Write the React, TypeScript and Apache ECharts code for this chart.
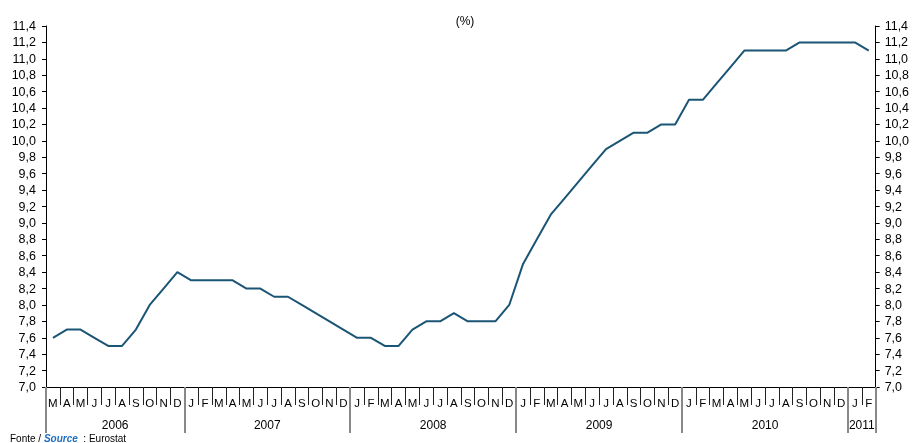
import React, { useEffect, useRef } from "react";
import * as echarts from "echarts";

const months = [
  "M","A","M","J","J","A","S","O","N","D",
  "J","F","M","A","M","J","J","A","S","O","N","D",
  "J","F","M","A","M","J","J","A","S","O","N","D",
  "J","F","M","A","M","J","J","A","S","O","N","D",
  "J","F","M","A","M","J","J","A","S","O","N","D",
  "J","F",
];

const values = [
  7.6, 7.7, 7.7, 7.6, 7.5, 7.5, 7.7, 8.0, 8.2, 8.4,
  8.3, 8.3, 8.3, 8.3, 8.2, 8.2, 8.1, 8.1, 8.0, 7.9, 7.8, 7.7,
  7.6, 7.6, 7.5, 7.5, 7.7, 7.8, 7.8, 7.9, 7.8, 7.8, 7.8, 8.0,
  8.5, 8.8, 9.1, 9.3, 9.5, 9.7, 9.9, 10.0, 10.1, 10.1, 10.2, 10.2,
  10.5, 10.5, 10.7, 10.9, 11.1, 11.1, 11.1, 11.1, 11.2, 11.2, 11.2, 11.2,
  11.2, 11.1,
];

const years = ["2006", "2007", "2008", "2009", "2010", "2011"];
const yearBoundaries = [0, 10, 22, 34, 46, 58, 60];
const yearCenters = [5, 16, 28, 40, 52, 59];

const FONT = "Liberation Sans, Arial, sans-serif";

export default function App() {
  const ref = useRef<HTMLDivElement>(null);

  useEffect(() => {
    if (!ref.current) return;
    const chart = echarts.init(ref.current, undefined, { renderer: "svg" });
    const fmt = (v: number) => v.toFixed(1).replace(".", ",");
    const yAxisBase = {
      type: "value" as const,
      min: 7,
      max: 11.4,
      interval: 0.2,
      splitLine: { show: false },
      axisLine: { show: true, lineStyle: { color: "#000", width: 1 } },
      axisTick: { show: true, length: 4, lineStyle: { color: "#000" } },
    };
    chart.setOption({
      animation: false,
      textStyle: { fontFamily: FONT },
      grid: { left: 46, right: 36, top: 26, bottom: 56, containLabel: false },
      title: {
        text: "(%)",
        left: 460,
        top: 10,
        textAlign: "center",
        textStyle: { fontFamily: FONT, fontSize: 12, fontWeight: "normal", color: "#000" },
      },
      graphic: [
        {
          type: "text",
          left: 10,
          top: 433,
          style: {
            rich: {
              a: { fontFamily: FONT, fontSize: 10, fill: "#000" },
              b: { fontFamily: FONT, fontSize: 10, fill: "#1f6fbf", fontWeight: "bold", fontStyle: "italic" },
            },
            text: "{a|Fonte / }{b|Source}{a|  : Eurostat}",
          },
        },
      ],
      xAxis: [
        {
          type: "category",
          data: months,
          boundaryGap: true,
          axisLine: { show: true, lineStyle: { color: "#000", width: 1 } },
          axisTick: { show: true, interval: 0, length: 18, lineStyle: { color: "#222", width: 1 } },
          axisLabel: {
            interval: 0,
            margin: 10,
            fontSize: 11.5,
            color: "#000",
            fontFamily: FONT,
          },
        },
        {
          type: "value",
          position: "bottom",
          min: 0,
          max: 60,
          axisLine: { show: false },
          splitLine: { show: false },
          axisTick: {
            show: true,
            customValues: yearBoundaries,
            length: 46,
            lineStyle: { color: "#888", width: 2 },
          },
          axisLabel: {
            customValues: yearCenters,
            margin: 32,
            fontSize: 12,
            color: "#000",
            fontFamily: FONT,
            formatter: (v: number) => {
              const i = yearCenters.indexOf(Math.round(v));
              return i >= 0 ? years[i] : "";
            },
          },
        },
      ],
      yAxis: [
        {
          ...yAxisBase,
          position: "left",
          axisLabel: { margin: 10, fontSize: 12.5, color: "#000", fontFamily: FONT, formatter: fmt },
        },
        {
          ...yAxisBase,
          position: "right",
          axisLabel: { margin: 9, fontSize: 12.5, color: "#000", fontFamily: FONT, formatter: fmt },
        },
      ],
      series: [
        {
          type: "line",
          data: values,
          xAxisIndex: 0,
          yAxisIndex: 0,
          symbol: "none",
          lineStyle: { color: "#1b5575", width: 2 },
          itemStyle: { color: "#1b5575" },
        },
      ],
    });
    return () => chart.dispose();
  }, []);

  return (
    <div
      ref={ref}
      style={{ position: "fixed", left: 0, top: 0, width: 912, height: 443 }}
    />
  );
}
